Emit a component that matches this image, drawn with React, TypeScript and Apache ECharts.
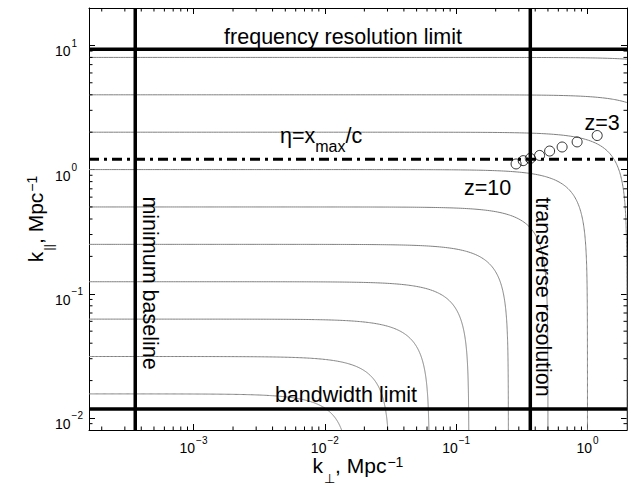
import React, { useEffect, useRef } from "react";
import * as echarts from "echarts";

// ---- axis extents ----
const X_MIN = 1.6e-4;
const X_MAX = 2;
const Y_MIN = 0.008;
const Y_MAX = 20;

// ---- data ----
// |k| contour radii (Mpc^-1) drawn as grey curves
const contourK = [0.015625, 0.03125, 0.0625, 0.125, 0.25, 0.5, 1, 2, 4, 8];
// limits
const minBaselineK = 3.6e-4;
const transverseK = 0.367;
const freqLimitK = 9.3;
const bandwidthK = 0.0118;
const etaK = 1.21;
// open circles z=10 ... z=3
const redshiftKperp = [0.286, 0.324, 0.367, 0.432, 0.515, 0.641, 0.834, 1.186];
const redshiftKpar = [1.11, 1.18, 1.23, 1.3, 1.41, 1.52, 1.67, 1.88];
// minor tick multipliers and decades
const minorMultipliers = [2, 3, 4, 5, 6, 7, 8, 9];
const xDecades = [1e-4, 1e-3, 1e-2, 1e-1, 1];
const yDecades = [1e-3, 1e-2, 1e-1, 1, 10];

const FONT = "'Liberation Sans', Arial, Helvetica, sans-serif";
const ANN = 21.5;

const xMinor = xDecades
  .flatMap((d) => minorMultipliers.map((m) => m * d))
  .filter((v) => v > X_MIN * 1.0001 && v < X_MAX * 0.9999);
const yMinor = yDecades
  .flatMap((d) => minorMultipliers.map((m) => m * d))
  .filter((v) => v > Y_MIN * 1.0001 && v < Y_MAX * 0.9999);

const minorTickData: number[][] = [
  ...xMinor.map((v) => [v, Y_MIN, 0]),
  ...xMinor.map((v) => [v, Y_MAX, 1]),
  ...yMinor.map((v) => [X_MIN, v, 2]),
  ...yMinor.map((v) => [X_MAX, v, 3]),
];

const powLabel = (v: number) => {
  const e = Math.log10(v);
  const r = Math.round(e);
  if (Math.abs(e - r) > 1e-6) return "";
  return `{b|10}{s|${r < 0 ? "\u2212" + -r : r}}`;
};

const tickRich = {
  b: { fontSize: 14, fontFamily: FONT, color: "#000", lineHeight: 14, padding: [6, 0, 0, 0], verticalAlign: "top" },
  s: { fontSize: 10, fontFamily: FONT, color: "#000", lineHeight: 10, padding: [0, 0, 0, 1], verticalAlign: "top" },
};

const nameRich = {
  n: { fontSize: 21, fontFamily: FONT, color: "#000", lineHeight: 21, padding: [0, 0, 9, 0], verticalAlign: "top" },
  sub: { fontSize: 13, fontFamily: FONT, color: "#000", lineHeight: 13, padding: [17, 0, 0, 1], verticalAlign: "top" },
  sup: { fontSize: 14, fontFamily: FONT, color: "#000", lineHeight: 14, padding: [0, 0, 0, 1], verticalAlign: "top" },
};

const axisCommon = {
  type: "log",
  logBase: 10,
  axisLine: { show: true, lineStyle: { color: "#000", width: 1 } },
  axisTick: { show: true, inside: true, length: 6, lineStyle: { color: "#000", width: 1 } },
  splitLine: { show: false },
  minorTick: { show: false },
  minorSplitLine: { show: false },
};

export default function App() {
  const ref = useRef<HTMLDivElement>(null);
  useEffect(() => {
    document.body.style.margin = "0";
    const chart = echarts.init(ref.current!, undefined, { renderer: "svg" });
    const thick = { color: "#000", width: 3.5 };
    const annText = (text: string, x: number, y: number, rotated = false) => ({
      type: "text",
      x,
      y,
      rotation: rotated ? -Math.PI / 2 : 0,
      z: 10,
      style: { text, fontSize: ANN, fontFamily: FONT, fill: "#000", align: "center", verticalAlign: "middle" },
    });
    const option: any = {
      animation: false,
      backgroundColor: "#fff",
      grid: { left: 89, top: 8, width: 538, height: 422, containLabel: false, outerBoundsMode: "none" },
      xAxis: [
        {
          ...axisCommon,
          min: X_MIN,
          max: X_MAX,
          position: "bottom",
          axisLabel: { formatter: powLabel, rich: tickRich, margin: 5, color: "#000" },
          name: "{n|k}{sub|\u22A5}{n|, Mpc}{sup|\u22121}",
          nameLocation: "middle",
          nameGap: 25,
          nameMoveOverlap: false,
          nameTextStyle: { rich: nameRich },
        },
        { ...axisCommon, min: X_MIN, max: X_MAX, position: "top", axisLabel: { show: false } },
      ],
      yAxis: [
        {
          ...axisCommon,
          min: Y_MIN,
          max: Y_MAX,
          position: "left",
          axisLabel: { formatter: powLabel, rich: tickRich, margin: 34, align: "left", color: "#000" },
          name: "{n|k}{sub|||}{n|, Mpc}{sup|\u22121}",
          nameLocation: "middle",
          nameRotate: 90,
          nameGap: 43,
          nameMoveOverlap: false,
          nameTextStyle: { rich: nameRich },
        },
        { ...axisCommon, min: Y_MIN, max: Y_MAX, position: "right", axisLabel: { show: false } },
      ],
      series: [
        {
          type: "custom",
          name: "contours",
          coordinateSystem: "cartesian2d",
          data: contourK.map((k) => [k, k]),
          encode: { x: 0, y: 1 },
          silent: true,
          z: 1,
          renderItem: (params: any, api: any) => {
            const r = api.value(0);
            const pts: number[][] = [];
            const N = 220;
            const xEnd = Math.min(X_MAX, Math.sqrt(r * r - Y_MIN * Y_MIN));
            const a = Math.log10(X_MIN);
            const b = Math.log10(xEnd);
            for (let i = 0; i <= N; i++) {
              const kx = Math.pow(10, a + ((b - a) * i) / N);
              pts.push([kx, Math.sqrt(Math.max(r * r - kx * kx, 0))]);
            }
            const yTop = Math.sqrt(r * r - X_MIN * X_MIN);
            const c = Math.log10(Y_MIN);
            const d = Math.log10(yTop);
            for (let i = 0; i <= N; i++) {
              const ky = Math.pow(10, c + ((d - c) * i) / N);
              const kx = Math.sqrt(r * r - ky * ky);
              if (kx >= X_MIN && kx <= X_MAX) pts.push([kx, ky]);
            }
            pts.sort((p, q) => p[0] - q[0]);
            const points = pts.filter((p) => p[1] >= Y_MIN * 0.9999).map((p) => api.coord(p));
            return {
              type: "polyline",
              shape: { points },
              style: { stroke: "#808080", lineWidth: 1, fill: "none" },
            };
          },
        },
        {
          type: "line",
          name: "minimum baseline",
          data: [[minBaselineK, Y_MIN], [minBaselineK, Y_MAX]],
          symbol: "none",
          lineStyle: thick,
          silent: true,
          z: 3,
        },
        {
          type: "line",
          name: "transverse resolution",
          data: [[transverseK, Y_MIN], [transverseK, Y_MAX]],
          symbol: "none",
          lineStyle: thick,
          silent: true,
          z: 3,
        },
        {
          type: "line",
          name: "frequency resolution limit",
          data: [[X_MIN, freqLimitK], [X_MAX, freqLimitK]],
          symbol: "none",
          lineStyle: thick,
          silent: true,
          z: 3,
        },
        {
          type: "line",
          name: "bandwidth limit",
          data: [[X_MIN, bandwidthK], [X_MAX, bandwidthK]],
          symbol: "none",
          lineStyle: thick,
          silent: true,
          z: 3,
        },
        {
          type: "line",
          name: "eta",
          data: [[X_MIN, etaK], [X_MAX, etaK]],
          symbol: "none",
          lineStyle: { color: "#000", width: 3, type: [10, 5, 3, 5] },
          silent: true,
          z: 3,
        },
        {
          type: "scatter",
          name: "redshifts",
          data: redshiftKperp.map((x, i) => [x, redshiftKpar[i]]),
          symbol: "circle",
          symbolSize: 10,
          itemStyle: { color: "rgba(255,255,255,0)", borderColor: "#000", borderWidth: 1 },
          silent: true,
          z: 5,
        },
        {
          type: "custom",
          name: "minor ticks",
          coordinateSystem: "cartesian2d",
          data: minorTickData,
          encode: { x: 0, y: 1 },
          silent: true,
          z: 6,
          renderItem: (params: any, api: any) => {
            const p = api.coord([api.value(0), api.value(1)]);
            const side = api.value(2);
            const L = 3.5;
            let x2 = p[0];
            let y2 = p[1];
            if (side === 0) y2 -= L;
            else if (side === 1) y2 += L;
            else if (side === 2) x2 += L;
            else x2 -= L;
            return {
              type: "line",
              shape: { x1: p[0], y1: p[1], x2, y2 },
              style: { stroke: "#000", lineWidth: 1 },
            };
          },
        },
      ],
      graphic: [
        annText("frequency resolution limit", 343, 37),
        annText("bandwidth limit", 346, 395),
        annText("minimum baseline", 150, 283, true),
        annText("transverse resolution", 543, 297, true),
        annText("z=3", 602, 122.7),
        annText("z=10", 487.5, 187.7),
        {
          type: "text",
          x: 280,
          y: 125,
          z: 10,
          style: {
            text: "{a|\u03B7=x}{s|max}{a|/c}",
            fill: "#000",
            align: "left",
            verticalAlign: "top",
            rich: {
              a: { fontSize: ANN, fontFamily: FONT, fill: "#000", lineHeight: 21, padding: [0, 0, 8, 0], verticalAlign: "top" },
              s: { fontSize: 16, fontFamily: FONT, fill: "#000", lineHeight: 16, padding: [13, 0, 0, 0], verticalAlign: "top" },
            },
          },
        },
      ],
    };
    chart.setOption(option);
    return () => chart.dispose();
  }, []);
  return <div ref={ref} style={{ width: 631, height: 485 }} />;
}
